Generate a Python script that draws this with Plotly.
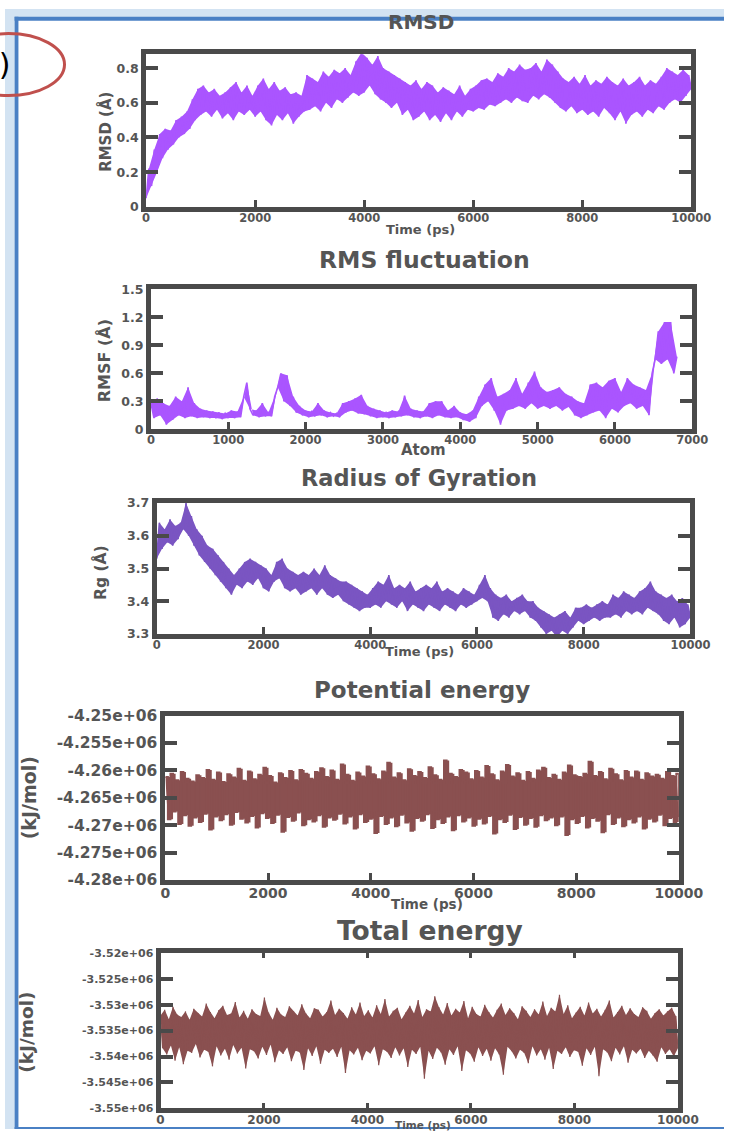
import numpy as np
import plotly.graph_objects as go

W, H = 749, 1138

# ---------------- data ----------------
rmsd_values = [
    0.05, 0.22, 0.12, 0.33, 0.20, 0.42, 0.28, 0.45, 0.33, 0.44,
    0.36, 0.50, 0.40, 0.52, 0.42, 0.55, 0.45, 0.62, 0.50, 0.68,
    0.53, 0.70, 0.55, 0.66, 0.52, 0.68, 0.56, 0.64, 0.51, 0.66,
    0.54, 0.69, 0.50, 0.72, 0.55, 0.66, 0.53, 0.70, 0.56, 0.64,
    0.52, 0.70, 0.55, 0.74, 0.50, 0.68, 0.47, 0.72, 0.53, 0.67,
    0.50, 0.69, 0.54, 0.65, 0.48, 0.66, 0.52, 0.64, 0.55, 0.76,
    0.56, 0.74, 0.58, 0.72, 0.55, 0.78, 0.60, 0.75, 0.57, 0.79,
    0.62, 0.77, 0.60, 0.80, 0.63, 0.76, 0.66, 0.84, 0.64, 0.89,
    0.66, 0.86, 0.70, 0.82, 0.65, 0.87, 0.62, 0.80, 0.60, 0.78,
    0.57, 0.76, 0.60, 0.74, 0.53, 0.72, 0.56, 0.70, 0.50, 0.73,
    0.52, 0.68, 0.55, 0.72, 0.50, 0.70, 0.53, 0.66, 0.49, 0.69,
    0.54, 0.67, 0.50, 0.65, 0.55, 0.70, 0.52, 0.64, 0.56, 0.68,
    0.55, 0.70, 0.57, 0.73, 0.56, 0.74, 0.59, 0.72, 0.58, 0.77,
    0.60, 0.75, 0.62, 0.80, 0.60, 0.78, 0.63, 0.82, 0.61, 0.79,
    0.60, 0.80, 0.64, 0.83, 0.62, 0.78, 0.65, 0.85, 0.63, 0.82,
    0.60, 0.78, 0.57, 0.74, 0.55, 0.72, 0.58, 0.75, 0.54, 0.71,
    0.56, 0.76, 0.53, 0.70, 0.55, 0.73, 0.52, 0.71, 0.57, 0.75,
    0.54, 0.72, 0.50, 0.70, 0.55, 0.74, 0.48, 0.70, 0.53, 0.72,
    0.55, 0.75, 0.52, 0.70, 0.56, 0.73, 0.54, 0.71, 0.58, 0.75,
    0.56, 0.80, 0.60, 0.78, 0.62, 0.76, 0.60, 0.79, 0.64, 0.76, 0.68,
]

rmsf_values = [
    0.28, 0.12, 0.33, 0.15, 0.28, 0.05, 0.25, 0.10, 0.35, 0.15,
    0.30, 0.12, 0.45, 0.14, 0.28, 0.12, 0.22, 0.13, 0.20, 0.12,
    0.19, 0.12, 0.18, 0.11, 0.17, 0.12, 0.20, 0.12, 0.19, 0.13,
    0.35, 0.50, 0.22, 0.15, 0.20, 0.13, 0.28, 0.14, 0.18, 0.14,
    0.35, 0.45, 0.60, 0.30, 0.58, 0.25, 0.35, 0.18, 0.25, 0.15,
    0.20, 0.13, 0.19, 0.14, 0.28, 0.15, 0.20, 0.13, 0.18, 0.14,
    0.17, 0.13, 0.28, 0.18, 0.30, 0.20, 0.33, 0.17, 0.37, 0.16,
    0.25, 0.14, 0.22, 0.12, 0.20, 0.13, 0.18, 0.12, 0.20, 0.13,
    0.19, 0.14, 0.36, 0.15, 0.22, 0.13, 0.20, 0.12, 0.19, 0.14,
    0.28, 0.12, 0.30, 0.15, 0.30, 0.13, 0.20, 0.12, 0.25, 0.13,
    0.18, 0.10, 0.16, 0.08, 0.20, 0.12, 0.35, 0.25, 0.48, 0.30,
    0.55, 0.20, 0.35, 0.05, 0.38, 0.20, 0.42, 0.22, 0.55, 0.25,
    0.38, 0.22, 0.50, 0.28, 0.62, 0.22, 0.45, 0.25, 0.40, 0.22,
    0.42, 0.25, 0.45, 0.20, 0.38, 0.24, 0.35, 0.15, 0.30, 0.12,
    0.28, 0.15, 0.48, 0.18, 0.50, 0.20, 0.45, 0.12, 0.52, 0.22,
    0.55, 0.18, 0.40, 0.25, 0.55, 0.28, 0.48, 0.22, 0.45, 0.25,
    0.42, 0.15, 0.60, 0.75, 1.05, 0.70, 1.15, 0.75, 1.15, 0.60,
    0.78,
]

rg_values = [
    3.53, 3.64, 3.56, 3.62, 3.58, 3.65, 3.57, 3.63, 3.59, 3.64,
    3.62, 3.70, 3.60, 3.66, 3.57, 3.62, 3.54, 3.60, 3.52, 3.57,
    3.50, 3.56, 3.48, 3.54, 3.46, 3.52, 3.44, 3.50, 3.42, 3.48,
    3.45, 3.50, 3.44, 3.52, 3.46, 3.53, 3.45, 3.52, 3.47, 3.51,
    3.44, 3.50, 3.43, 3.48, 3.46, 3.52, 3.47, 3.53, 3.44, 3.50,
    3.43, 3.49, 3.44, 3.48, 3.42, 3.49, 3.43, 3.48, 3.44, 3.50,
    3.42, 3.48, 3.44, 3.51, 3.42, 3.48, 3.41, 3.47, 3.42, 3.46,
    3.40, 3.46, 3.39, 3.45, 3.38, 3.44, 3.37, 3.43, 3.38, 3.42,
    3.38, 3.44, 3.39, 3.46, 3.38, 3.45, 3.40, 3.48, 3.39, 3.44,
    3.38, 3.45, 3.40, 3.44, 3.37, 3.46, 3.39, 3.43, 3.38, 3.44,
    3.37, 3.45, 3.39, 3.44, 3.38, 3.46, 3.37, 3.43, 3.39, 3.44,
    3.38, 3.43, 3.37, 3.42, 3.39, 3.44, 3.38, 3.43, 3.39, 3.42,
    3.40, 3.45, 3.41, 3.48, 3.40, 3.44, 3.35, 3.42, 3.34, 3.41,
    3.36, 3.42, 3.35, 3.40, 3.37, 3.41, 3.36, 3.42, 3.37, 3.40,
    3.35, 3.40, 3.34, 3.38, 3.32, 3.37, 3.30, 3.36, 3.31, 3.35,
    3.29, 3.36, 3.31, 3.37, 3.30, 3.35, 3.32, 3.38, 3.34, 3.38,
    3.33, 3.39, 3.34, 3.38, 3.35, 3.39, 3.34, 3.40, 3.35, 3.39,
    3.35, 3.42, 3.36, 3.41, 3.35, 3.43, 3.37, 3.42, 3.36, 3.41,
    3.37, 3.43, 3.36, 3.44, 3.38, 3.46, 3.37, 3.43, 3.36, 3.42,
    3.34, 3.41, 3.33, 3.42, 3.35, 3.40, 3.32, 3.41, 3.33, 3.39, 3.35,
]

# energies in units of 1000 kJ/mol
pe_kilo = [
    -4261.2, -4268.9, -4260.6, -4267.5, -4261.8, -4269.8, -4260.3, -4268.2, -4261.5, -4270.1,
    -4262.0, -4268.6, -4260.9, -4269.4, -4261.4, -4267.9, -4259.9, -4270.8, -4261.7, -4268.4,
    -4260.4, -4269.1, -4262.1, -4268.0, -4260.7, -4269.9, -4261.3, -4267.6, -4259.7, -4268.8,
    -4261.9, -4269.5, -4260.2, -4268.3, -4261.6, -4270.4, -4260.8, -4267.8, -4259.5, -4268.7,
    -4261.0, -4269.6, -4262.2, -4268.1, -4260.5, -4271.2, -4261.4, -4268.5, -4260.1, -4269.2,
    -4261.8, -4267.7, -4259.9, -4270.0, -4260.6, -4268.9, -4261.5, -4269.3, -4260.3, -4268.2,
    -4259.6, -4270.3, -4261.2, -4268.6, -4260.0, -4269.0, -4261.7, -4267.9, -4258.9, -4269.7,
    -4260.8, -4268.4, -4261.9, -4270.6, -4260.4, -4268.0, -4261.1, -4269.4, -4259.3, -4268.8,
    -4260.7, -4271.4, -4261.6, -4268.3, -4260.2, -4269.8, -4258.6, -4268.6, -4261.3, -4270.2,
    -4260.5, -4268.1, -4261.8, -4269.5, -4259.8, -4271.0, -4261.0, -4268.7, -4260.3, -4269.2,
    -4261.4, -4268.0, -4259.4, -4270.5, -4260.9, -4268.9, -4261.7, -4269.6, -4258.2, -4268.4,
    -4260.6, -4270.9, -4261.2, -4268.2, -4259.9, -4269.3, -4260.4, -4268.6, -4261.6, -4270.1,
    -4260.1, -4268.8, -4261.3, -4269.7, -4259.2, -4268.3, -4260.7, -4271.5, -4261.8, -4268.9,
    -4260.2, -4269.4, -4259.0, -4268.1, -4261.1, -4270.7, -4260.5, -4268.5, -4261.9, -4269.9,
    -4260.3, -4268.7, -4261.5, -4270.3, -4260.0, -4268.2, -4259.5, -4269.1, -4261.4, -4268.6,
    -4260.8, -4270.0, -4261.7, -4268.4, -4260.4, -4271.8, -4259.1, -4268.9, -4260.9, -4269.6,
    -4261.2, -4268.3, -4260.6, -4270.4, -4258.4, -4268.7, -4261.0, -4269.2, -4260.3, -4271.3,
    -4261.6, -4268.0, -4259.7, -4269.8, -4260.7, -4268.6, -4261.8, -4270.2, -4260.1, -4268.9,
    -4261.3, -4269.5, -4260.2, -4268.4, -4261.7, -4270.6, -4260.5, -4268.8, -4261.1, -4269.3,
    -4260.8, -4268.1, -4261.5, -4270.0, -4260.3, -4268.7, -4261.0, -4269.4, -4260.6, -4268.5,
]

te_kilo = [
    -3532.1, -3538.4, -3531.0, -3539.6, -3532.8, -3537.9, -3530.4, -3540.8, -3531.9, -3538.2,
    -3532.4, -3541.5, -3531.3, -3538.9, -3532.9, -3539.3, -3530.8, -3537.6, -3531.6, -3540.2,
    -3532.3, -3538.7, -3529.8, -3539.1, -3531.4, -3541.9, -3532.6, -3538.0, -3531.1, -3539.8,
    -3530.2, -3538.5, -3532.0, -3540.6, -3531.7, -3537.8, -3529.5, -3539.4, -3532.5, -3538.3,
    -3531.2, -3542.3, -3532.7, -3538.6, -3530.9, -3539.0, -3531.8, -3540.4, -3532.2, -3538.1,
    -3528.6, -3539.7, -3531.5, -3537.7, -3532.9, -3541.1, -3530.6, -3538.8, -3531.9, -3539.5,
    -3532.4, -3538.2, -3530.3, -3540.9, -3531.3, -3538.9, -3532.1, -3539.2, -3529.9, -3542.6,
    -3531.7, -3538.4, -3532.6, -3539.9, -3530.7, -3538.0, -3531.0, -3541.4, -3532.3, -3538.7,
    -3531.4, -3539.3, -3529.2, -3538.5, -3532.0, -3540.1, -3530.8, -3538.1, -3531.6, -3543.2,
    -3532.7, -3538.8, -3530.5, -3539.6, -3531.9, -3538.3, -3529.6, -3540.7, -3532.2, -3538.9,
    -3531.1, -3539.4, -3532.5, -3538.0, -3530.1, -3541.7, -3531.8, -3538.6, -3528.9, -3539.1,
    -3532.3, -3540.3, -3531.2, -3538.2, -3530.6, -3539.8, -3532.8, -3538.4, -3531.5, -3542.0,
    -3530.2, -3538.7, -3531.7, -3539.5, -3529.1, -3538.1, -3532.4, -3544.3, -3530.9, -3538.9,
    -3531.3, -3540.5, -3528.4, -3538.3, -3530.5, -3539.2, -3531.9, -3541.6, -3529.7, -3538.6,
    -3532.1, -3539.7, -3530.8, -3538.0, -3531.5, -3542.8, -3529.3, -3538.8, -3532.6, -3539.4,
    -3530.4, -3541.0, -3531.8, -3538.2, -3532.3, -3539.9, -3530.0, -3538.5, -3531.4, -3540.8,
    -3532.5, -3538.4, -3531.0, -3539.6, -3529.8, -3543.5, -3532.0, -3538.1, -3530.7, -3539.0,
    -3531.6, -3540.4, -3532.8, -3538.7, -3530.3, -3539.3, -3531.2, -3541.3, -3532.4, -3538.0,
    -3530.9, -3539.8, -3531.9, -3538.6, -3529.4, -3540.6, -3532.2, -3538.3, -3530.6, -3542.4,
    -3531.3, -3538.9, -3528.1, -3539.5, -3531.8, -3538.2, -3530.1, -3540.1, -3532.6, -3538.8,
    -3531.5, -3539.1, -3530.4, -3541.8, -3532.1, -3538.4, -3529.6, -3539.7, -3531.7, -3538.1,
    -3530.8, -3543.8, -3532.3, -3538.6, -3531.0, -3539.2, -3529.2, -3540.9, -3532.5, -3538.3,
    -3531.4, -3539.6, -3530.2, -3538.0, -3532.0, -3541.2, -3530.7, -3538.7, -3531.8, -3539.4,
    -3532.4, -3538.5, -3530.5, -3540.3, -3531.2, -3538.9, -3532.7, -3539.8, -3531.6, -3541.0,
    -3530.9, -3538.2, -3532.1, -3539.5, -3531.3, -3538.6, -3530.6, -3540.0, -3532.2, -3538.4,
]

time_ticks = [0, 2000, 4000, 6000, 8000, 10000]
atom_ticks = [0, 1000, 2000, 3000, 4000, 5000, 6000, 7000]
rmsd_ticks = [0, 0.2, 0.4, 0.6, 0.8]
rmsf_ticks = [0, 0.3, 0.6, 0.9, 1.2, 1.5]
rg_ticks = [3.3, 3.4, 3.5, 3.6, 3.7]
pe_ticks = [-4.28e6, -4.275e6, -4.27e6, -4.265e6, -4.26e6, -4.255e6, -4.25e6]
pe_labels = ["-4.28e+06", "-4.275e+06", "-4.27e+06", "-4.265e+06", "-4.26e+06", "-4.255e+06", "-4.25e+06"]
te_ticks = [-3.55e6, -3.545e6, -3.54e6, -3.535e6, -3.53e6, -3.525e6, -3.52e6]
te_labels = ["-3.55e+06", "-3.545e+06", "-3.54e+06", "-3.535e+06", "-3.53e+06", "-3.525e+06", "-3.52e+06"]

# ---------------- geometry helpers (window pixels -> paper) ----------------
def fx(p):
    return p / W


def fy(p):
    return 1 - p / H


FONT = "DejaVu Sans"
GRAY = "#555555"
FRAME = "#4a4a4a"

fig = go.Figure()

panels = [
    dict(x=np.linspace(0, 10000, len(rmsd_values)), y=rmsd_values, color="#aa55ff", shape="linear", lw=1.6,
         xd=(147, 715), yd=(46, 201), xr=[0, 10000], yr=[0, 0.88]),
    dict(x=np.linspace(0, 6800, len(rmsf_values)), y=rmsf_values, color="#aa55ff", shape="linear", lw=1.6,
         xd=(152, 716), yd=(285, 427), xr=[0, 7000], yr=[0, 1.5]),
    dict(x=np.linspace(0, 10000, len(rg_values)), y=rg_values, color="#7a55c2", shape="linear", lw=1.6,
         xd=(158, 714), yd=(502, 635), xr=[0, 10000], yr=[3.3, 3.7]),
    dict(x=np.linspace(0, 10000, len(pe_kilo)), y=[v * 1000 for v in pe_kilo], color="#8a5050", shape="hv", lw=2.0,
         xd=(167, 702), yd=(718, 885), xr=[0, 10000], yr=[-4.28e6, -4.25e6]),
    dict(x=np.linspace(0, 10000, len(te_kilo)), y=[v * 1000 for v in te_kilo], color="#8a5050", shape="linear", lw=1.2,
         xd=(162, 701), yd=(959, 1117), xr=[0, 10000], yr=[-3.55e6, -3.52e6]),
]

xtick_sets = [time_ticks, atom_ticks, time_ticks, time_ticks, time_ticks]
ytick_sets = [
    (rmsd_ticks, ["0", "0.2", "0.4", "0.6", "0.8"]),
    (rmsf_ticks, ["0", "0.3", "0.6", "0.9", "1.2", "1.5"]),
    (rg_ticks, ["3.3", "3.4", "3.5", "3.6", "3.7"]),
    (pe_ticks, pe_labels),
    (te_ticks, te_labels),
]
ytick_font_sizes = [12.5, 12.5, 12.5, 15.5, 11]
xtick_font_sizes = [11.5, 11.5, 11.5, 14, 12]

for i, p in enumerate(panels):
    n = "" if i == 0 else str(i + 1)
    xs = np.asarray(p["x"])
    ys = np.asarray(p["y"])
    common = dict(xaxis="x" + n, yaxis="y" + n, showlegend=False, hoverinfo="skip", mode="lines")
    # dense band: the area between the alternating samples of the same series
    fig.add_trace(go.Scatter(x=xs[0::2], y=ys[0::2],
                             line=dict(width=0, color=p["color"], shape=p["shape"]), **common))
    fig.add_trace(go.Scatter(x=xs[1::2], y=ys[1::2], fill="tonexty", fillcolor=p["color"],
                             line=dict(width=0, color=p["color"], shape=p["shape"]), **common))
    # the trace itself
    fig.add_trace(go.Scatter(x=xs, y=ys,
                             line=dict(color=p["color"], width=p["lw"], shape=p["shape"]), **common))
    xt = xtick_sets[i]
    yt, ytl = ytick_sets[i]
    fig.layout["xaxis" + n] = dict(
        domain=[fx(p["xd"][0]), fx(p["xd"][1])], anchor="y" + n, range=p["xr"],
        showgrid=False, zeroline=False, showline=True, linewidth=5, linecolor=FRAME,
        mirror="allticks" if i == 4 else True,
        ticks="inside", ticklen=7 if i < 4 else 5, tickwidth=3, tickcolor=FRAME,
        tickvals=xt, ticktext=[str(v) for v in xt], ticklabelstandoff=-4,
        tickfont=dict(family=FONT, size=xtick_font_sizes[i], color=GRAY, weight="bold"),
    )
    fig.layout["yaxis" + n] = dict(
        domain=[fy(p["yd"][1]), fy(p["yd"][0])], anchor="x" + n, range=p["yr"],
        showgrid=False, zeroline=False, showline=True, linewidth=5, linecolor=FRAME,
        mirror="allticks", ticks="inside", ticklen=12, tickwidth=3.5, tickcolor=FRAME,
        tickvals=yt, ticktext=ytl,
        tickfont=dict(family=FONT, size=ytick_font_sizes[i], color=GRAY, weight="bold"),
    )

annotations = []


def label(text, x, y, size, angle=0, color=GRAY):
    annotations.append(dict(
        text=text, x=fx(x), y=fy(y), xref="paper", yref="paper", showarrow=False,
        textangle=angle, xanchor="center", yanchor="middle",
        font=dict(family=FONT, size=size, color=color, weight="bold"),
    ))


# panel titles
label("RMSD", 433, 13, 20)
label("RMS fluctuation", 437, 255, 23.5)
label("Radius of Gyration", 431, 477, 22.5)
label("Potential energy", 434, 692, 23)
label("Total energy", 443, 936, 26.5)
# x titles
label("Time (ps)", 433, 224, 13)
label("Atom", 436, 448, 15)
label("Time (ps)", 432, 653, 13)
label("Time (ps)", 440, 909, 13.5)
label("Time (ps)", 435, 1134, 10.5)
# y titles
label("RMSD (Å)", 104, 125, 15, angle=-90)
label("RMSF (Å)", 103, 357, 16, angle=-90)
label("Rg (Å)", 100, 572, 15.5, angle=-90)
label("(kJ/mol)", 25, 801, 19, angle=-90)
label("(kJ/mol)", 22, 1040, 18.5, angle=-90)
# panel letter inside the red oval (cut by the page edge)
annotations.append(dict(
    text="(b)", x=fx(7), y=fy(56), xref="paper", yref="paper", showarrow=False,
    xanchor="right", yanchor="middle", font=dict(family=FONT, size=30, color="#000000"),
))

shapes = [
    dict(type="rect", xref="paper", yref="paper", x0=0, x1=1, y0=fy(9), y1=1,
         fillcolor="#d3e3f2", line=dict(width=0), layer="below"),
    dict(type="rect", xref="paper", yref="paper", x0=0, x1=fx(10), y0=0, y1=1,
         fillcolor="#d3e3f2", line=dict(width=0), layer="below"),
    dict(type="rect", xref="paper", yref="paper", x0=fx(10), x1=1, y0=fy(12), y1=fy(8),
         fillcolor="#4a80c4", line=dict(width=0)),
    dict(type="rect", xref="paper", yref="paper", x0=fx(10), x1=fx(14), y0=0, y1=fy(8),
         fillcolor="#4a80c4", line=dict(width=0)),
    dict(type="rect", xref="paper", yref="paper", x0=fx(10), x1=1, y0=0, y1=fy(1136),
         fillcolor="#4a80c4", line=dict(width=0)),
    dict(type="circle", xref="paper", yref="paper", x0=fx(-55), x1=fx(62), y0=fy(88), y1=fy(25),
         line=dict(color="#c0504d", width=3)),
]

fig.update_layout(
    width=W, height=H, margin=dict(l=0, r=0, t=0, b=0),
    paper_bgcolor="white", plot_bgcolor="white",
    annotations=annotations, shapes=shapes, showlegend=False,
)

fig.write_html("out.html")
